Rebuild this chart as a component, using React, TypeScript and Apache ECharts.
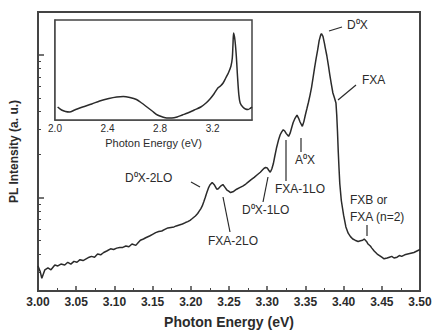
import React, { useEffect, useRef } from "react";
import * as echarts from "echarts";

// Main PL spectrum: [photon energy (eV), PL intensity (a.u., log axis)]
const mainSpectrum: number[][] = [
  [3.000, 0.33], [3.003, 0.30], [3.005, 0.27], [3.009, 0.31], [3.013, 0.32], [3.017, 0.31],
  [3.022, 0.335], [3.026, 0.33], [3.030, 0.34], [3.035, 0.335], [3.039, 0.35], [3.043, 0.34],
  [3.047, 0.355], [3.051, 0.35], [3.055, 0.365], [3.059, 0.36], [3.063, 0.37], [3.067, 0.38],
  [3.070, 0.385], [3.074, 0.38], [3.078, 0.40], [3.082, 0.395], [3.086, 0.41], [3.090, 0.42],
  [3.095, 0.435], [3.099, 0.43], [3.103, 0.44], [3.107, 0.445], [3.111, 0.445], [3.115, 0.455],
  [3.119, 0.45], [3.123, 0.47], [3.128, 0.46], [3.131, 0.48], [3.134, 0.50], [3.138, 0.51],
  [3.141, 0.52], [3.146, 0.535], [3.150, 0.55], [3.154, 0.565], [3.158, 0.575], [3.162, 0.58],
  [3.166, 0.595], [3.170, 0.61], [3.174, 0.615], [3.178, 0.62], [3.181, 0.63], [3.185, 0.64],
  [3.189, 0.65], [3.193, 0.665], [3.196, 0.675], [3.199, 0.69], [3.202, 0.71], [3.206, 0.74],
  [3.209, 0.77], [3.211, 0.80], [3.213, 0.83], [3.215, 0.87], [3.217, 0.93], [3.219, 1.00],
  [3.221, 1.08], [3.223, 1.16], [3.225, 1.22], [3.228, 1.27], [3.231, 1.22], [3.234, 1.14],
  [3.236, 1.15], [3.238, 1.18], [3.240, 1.21], [3.242, 1.23], [3.245, 1.17], [3.247, 1.13],
  [3.250, 1.10], [3.252, 1.08], [3.256, 1.10], [3.260, 1.14], [3.264, 1.17], [3.268, 1.20],
  [3.272, 1.24], [3.275, 1.28], [3.279, 1.33], [3.283, 1.38], [3.287, 1.44], [3.291, 1.50],
  [3.294, 1.56], [3.296, 1.60], [3.298, 1.62], [3.300, 1.61], [3.302, 1.55], [3.304, 1.50],
  [3.306, 1.58], [3.308, 1.72], [3.310, 1.95], [3.312, 2.20], [3.315, 2.55], [3.317, 2.75],
  [3.319, 2.88], [3.321, 2.98], [3.323, 2.92], [3.325, 2.80], [3.328, 2.68], [3.330, 2.82],
  [3.332, 3.08], [3.334, 3.35], [3.336, 3.55], [3.339, 3.78], [3.341, 3.60], [3.343, 3.38],
  [3.346, 3.15], [3.348, 3.40], [3.350, 3.80], [3.352, 4.20], [3.354, 4.65], [3.356, 5.20],
  [3.358, 5.90], [3.360, 6.90], [3.362, 8.10], [3.364, 9.40], [3.366, 10.8], [3.368, 12.6],
  [3.370, 13.8], [3.371, 14.1], [3.373, 13.5], [3.375, 12.0], [3.376, 11.2], [3.378, 9.9],
  [3.380, 8.5], [3.382, 7.2], [3.384, 6.2], [3.386, 5.4], [3.388, 5.0], [3.390, 4.6],
  [3.391, 3.8], [3.392, 2.9], [3.393, 2.1], [3.394, 1.6], [3.395, 1.25], [3.397, 0.95],
  [3.400, 0.75], [3.403, 0.62], [3.406, 0.56], [3.409, 0.53], [3.412, 0.51], [3.415, 0.50],
  [3.419, 0.49], [3.422, 0.495], [3.425, 0.50], [3.427, 0.51], [3.430, 0.49], [3.432, 0.47],
  [3.435, 0.455], [3.437, 0.44], [3.440, 0.42], [3.444, 0.40], [3.447, 0.39], [3.450, 0.38],
  [3.453, 0.37], [3.457, 0.375], [3.460, 0.38], [3.463, 0.385], [3.466, 0.375], [3.470, 0.38],
  [3.473, 0.39], [3.476, 0.385], [3.480, 0.395], [3.484, 0.40], [3.488, 0.405], [3.492, 0.41],
  [3.496, 0.42], [3.500, 0.43],
];

// Inset wide-range spectrum: [photon energy (eV), PL intensity (a.u.)]
const insetSpectrum: number[][] = [
  [2.02, 13], [2.05, 10], [2.08, 8.5], [2.11, 8], [2.15, 10], [2.21, 13], [2.28, 16],
  [2.34, 19], [2.41, 21.5], [2.47, 23], [2.52, 23.5], [2.57, 22.5], [2.62, 20.5], [2.66, 17],
  [2.70, 13], [2.74, 9], [2.78, 5], [2.82, 3], [2.85, 2], [2.89, 2], [2.93, 3], [2.97, 5],
  [3.01, 7], [3.06, 10], [3.11, 13], [3.15, 17], [3.18, 21], [3.21, 26], [3.24, 32],
  [3.26, 34], [3.28, 37], [3.30, 42], [3.32, 47], [3.34, 54], [3.35, 62], [3.355, 75],
  [3.36, 87], [3.37, 80], [3.38, 65], [3.39, 43], [3.40, 25], [3.41, 17], [3.43, 13],
  [3.45, 11], [3.47, 10.5], [3.49, 12], [3.50, 13],
];

const majorTickIntensities = [1, 10];
const minorTickIntensities = [0.3, 0.4, 0.5, 0.6, 0.7, 0.8, 0.9, 2, 3, 4, 5, 6, 7, 8, 9];

const annotationTexts = [
  "D⁰X", "FXA", "A⁰X", "FXA-1LO", "D⁰X-1LO", "FXA-2LO", "D⁰X-2LO", "FXB or", "FXA (n=2)",
];

const INK = "#2b2b2b";
const FONT = "'Liberation Sans', Arial, sans-serif";

export default function App() {
  const ref = useRef<HTMLDivElement>(null);
  useEffect(() => {
    if (!ref.current) return;
    const chart = echarts.init(ref.current, null, { renderer: "svg" });
    const lg = (v: number) => Math.log10(v);
    const textPos: number[][] = [
      [347, 25], [362, 80], [295, 160], [275, 189], [242, 210], [208, 241], [125, 178], [350, 200], [350, 217],
    ];
    const linePos: number[][] = [
      [329, 31, 342, 27], [338, 100, 356, 85], [301, 138, 301, 152], [286, 140, 286, 181],
      [263, 202, 268, 177], [230, 232, 223, 197], [191, 182, 200, 187], [367, 225, 367, 236],
    ];
    const graphic: any[] = [];
    annotationTexts.forEach((t, i) => {
      graphic.push({
        type: "text", x: textPos[i][0], y: textPos[i][1], z: 100,
        style: { text: t, fill: INK, font: `12px ${FONT}`, textAlign: "left", textVerticalAlign: "middle" },
      });
    });
    linePos.forEach((l) => {
      graphic.push({
        type: "line", z: 100,
        shape: { x1: l[0], y1: l[1], x2: l[2], y2: l[3] },
        style: { stroke: INK, lineWidth: 1.2 },
      });
    });

    chart.setOption({
      animation: false,
      backgroundColor: "#ffffff",
      grid: [
        { left: 37, right: 15, top: 12, bottom: 42, show: true, borderColor: "#444", borderWidth: 2, backgroundColor: "transparent" },
        { left: 55, right: 183, top: 20, bottom: 214, show: true, borderColor: "#444", borderWidth: 1.5, backgroundColor: "#ffffff", z: 3 },
      ],
      xAxis: [
        {
          type: "value", gridIndex: 0, min: 3.0, max: 3.5, interval: 0.05,
          name: "Photon Energy (eV)", nameLocation: "middle", nameGap: 24,
          nameTextStyle: { fontSize: 14, fontWeight: "bold", color: INK, fontFamily: FONT },
          axisLine: { show: true, onZero: false, lineStyle: { color: "#444", width: 2 } },
          axisTick: { show: true, inside: true, length: 5, lineStyle: { color: "#444", width: 1.5 } },
          minorTick: { show: true, splitNumber: 2, length: 3, lineStyle: { color: "#444", width: 1 } },
          axisLabel: { fontSize: 12, fontWeight: "bold", color: INK, fontFamily: FONT, margin: 5, formatter: (v: number) => v.toFixed(2) },
          splitLine: { show: false },
        },
        {
          type: "value", gridIndex: 1, min: 2.0, max: 3.5, interval: 0.4,
          name: "Photon Energy (eV)", nameLocation: "middle", nameGap: 17,
          nameTextStyle: { fontSize: 11, color: INK, fontFamily: FONT },
          axisLine: { show: true, onZero: false, lineStyle: { color: "#444", width: 1.5 } },
          axisTick: { show: false },
          axisLabel: { fontSize: 10, color: INK, fontFamily: FONT, margin: 3, showMaxLabel: false, formatter: (v: number) => v.toFixed(1) },
          splitLine: { show: false },
        },
      ],
      yAxis: [
        {
          type: "value", gridIndex: 0, min: lg(0.22), max: lg(20),
          name: "PL Intensity (a. u.)", nameLocation: "middle", nameGap: 18,
          nameTextStyle: { fontSize: 12, fontWeight: "bold", color: INK, fontFamily: FONT },
          axisLine: { show: true, onZero: false, lineStyle: { color: "#444", width: 2 } },
          axisTick: { show: true, inside: true, length: 6, customValues: majorTickIntensities.map(lg), lineStyle: { color: "#444", width: 1.5 } },
          axisLabel: { show: false },
          splitLine: { show: false },
        },
        {
          type: "value", gridIndex: 0, min: lg(0.22), max: lg(20), position: "left",
          axisLine: { show: false, onZero: false },
          axisTick: { show: true, inside: true, length: 3, customValues: minorTickIntensities.map(lg), lineStyle: { color: "#444", width: 1 } },
          axisLabel: { show: false },
          splitLine: { show: false },
        },
        {
          type: "value", gridIndex: 1, min: 0, max: 100,
          axisLine: { show: true, onZero: false, lineStyle: { color: "#444", width: 1.5 } },
          axisTick: { show: false },
          axisLabel: { show: false },
          splitLine: { show: false },
        },
      ],
      series: [
        {
          type: "line", xAxisIndex: 0, yAxisIndex: 0, showSymbol: false,
          data: mainSpectrum.map((p) => [p[0], lg(p[1])]),
          lineStyle: { color: INK, width: 1.5 }, z: 2,
        },
        {
          type: "line", xAxisIndex: 1, yAxisIndex: 2, showSymbol: false, smooth: 0.3,
          data: insetSpectrum,
          lineStyle: { color: INK, width: 1.5 }, z: 5,
        },
      ],
      graphic,
    });
    return () => chart.dispose();
  }, []);
  return <div ref={ref} style={{ position: "fixed", left: 0, top: 0, width: 435, height: 334 }} />;
}
